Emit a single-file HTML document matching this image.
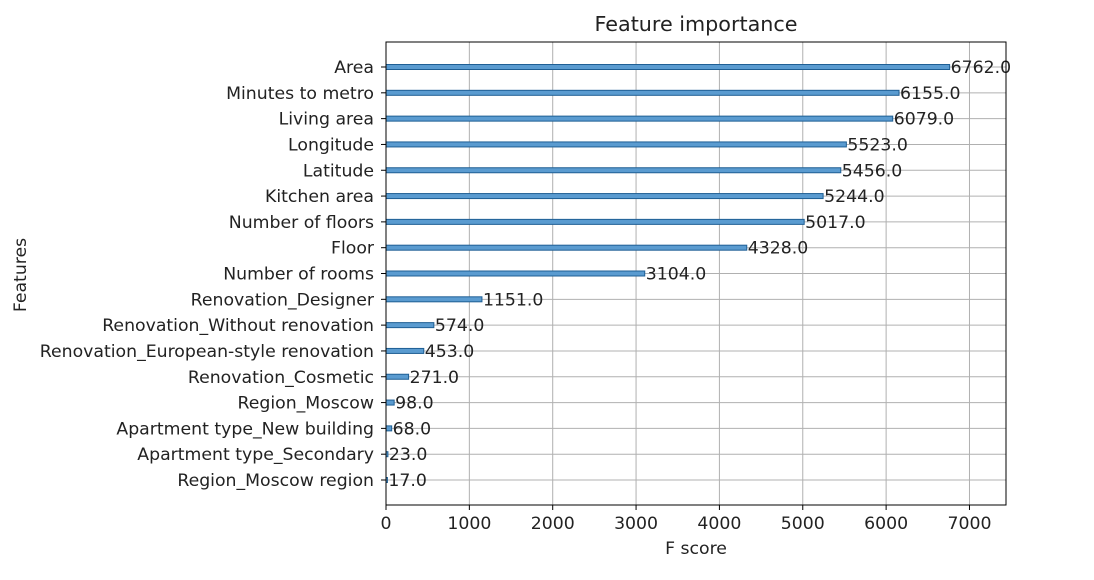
<!DOCTYPE html>
<html><head><meta charset="utf-8"><style>
body{margin:0;background:#fff;}
svg{display:block;font-family:"DejaVu Sans","Liberation Sans",sans-serif;}
</style></head><body>
<svg id="chart" width="1094" height="580"></svg>
<script>
const features=["Area","Minutes to metro","Living area","Longitude","Latitude","Kitchen area","Number of floors","Floor","Number of rooms","Renovation_Designer","Renovation_Without renovation","Renovation_European-style renovation","Renovation_Cosmetic","Region_Moscow","Apartment type_New building","Apartment type_Secondary","Region_Moscow region"];
const scores=[6762,6155,6079,5523,5456,5244,5017,4328,3104,1151,574,453,271,98,68,23,17];
const xTicks=[0,1000,2000,3000,4000,5000,6000,7000];
const NS="http://www.w3.org/2000/svg";
const svg=document.getElementById('chart');
const L=386,R=1006,T=42,B=505;
const xmax=Math.max(...scores)*1.1;
const x=v=>L+v/xmax*(R-L);
const n=features.length;
const y=i=>T+25+i*((B-T-50)/(n-1));
const FS=17.3;
function mk(tag,attrs,parent){const e=document.createElementNS(NS,tag);for(const k in attrs)e.setAttribute(k,attrs[k]);(parent||svg).appendChild(e);return e;}
xTicks.forEach(t=>{
  const g=mk('line',{x1:x(t),x2:x(t),y1:T,y2:B,stroke:'#b0b0b0','stroke-width':1});
  
  
  const tk=mk('line',{x1:x(t),x2:x(t),y1:B,y2:B+5,stroke:'#000'});
  
  
  const lb=mk('text',{x:x(t),y:B+24,'text-anchor':'middle','font-size':FS,fill:'#222'});
  lb.textContent=t;
  
  
});
features.forEach((f,i)=>{
  const yy=y(i);
  const g=mk('line',{x1:L,x2:R,y1:yy,y2:yy,stroke:'#b0b0b0','stroke-width':1});
  
  
  const bar=mk('rect',{x:L,y:yy-2.5,width:x(scores[i])-L,height:5,fill:'#5a9bd0',stroke:'#1f5f94','stroke-width':1});
  
  
  const tk=mk('line',{x1:L-5,x2:L,y1:yy,y2:yy,stroke:'#000'});
  
  
  const lb=mk('text',{x:L-12,y:yy+6,'text-anchor':'end','font-size':FS,fill:'#222'});
  lb.textContent=f;
  
  
  const v=mk('text',{x:x(scores[i])+1,y:yy+6,'font-size':FS,fill:'#222'});
  v.textContent=scores[i].toFixed(1);
  
  
});
const fr=mk('rect',{x:L,y:T,width:R-L,height:B-T,fill:'none',stroke:'#000','stroke-width':1});


const title=mk('text',{x:(L+R)/2,y:31,'text-anchor':'middle','font-size':20.7,fill:'#222'});
title.textContent='Feature importance';


const xl=mk('text',{x:(L+R)/2,y:554,'text-anchor':'middle','font-size':FS,fill:'#222'});
xl.textContent='F score';


const yl=mk('text',{x:0,y:0,'text-anchor':'middle','font-size':FS,fill:'#222',transform:'translate(26,275) rotate(-90)'});
yl.textContent='Features';


</script>
</body></html>
